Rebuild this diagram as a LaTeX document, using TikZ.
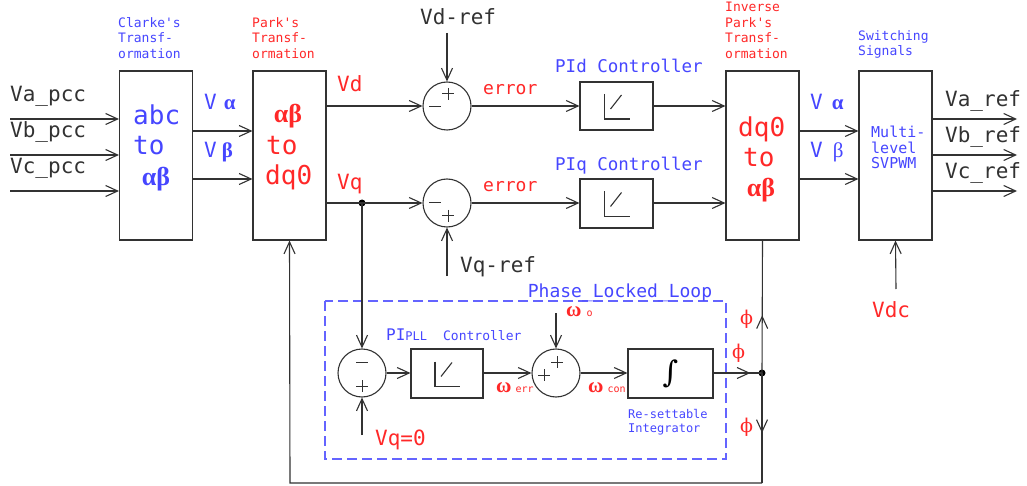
\documentclass[tikz,border=0pt]{standalone}
\usepackage{fontspec}
\setmonofont{DejaVu Sans Mono}
\newfontfamily\grk{Liberation Serif}
\newfontfamily\grkb{DejaVu Serif}
\usetikzlibrary{arrows.meta,decorations.markings,calc}
\definecolor{lc}{RGB}{50,50,50}
\definecolor{bl}{RGB}{70,70,255}
\definecolor{rd}{RGB}{255,40,40}
\definecolor{dbl}{RGB}{100,100,255}
\begin{document}
\begin{tikzpicture}[x=1pt,y=-1pt,
  every node/.style={font=\ttfamily},
  tip/.tip={Straight Barb[length=12pt,width=11pt]},
  arr/.style={-tip},
  ln/.style={draw=lc,line width=1.1pt},
  blk/.style={draw=lc,line width=1.1pt,minimum width=73pt,minimum height=169pt,inner sep=0},
  sblk/.style={draw=lc,line width=1.1pt,minimum width=73pt,minimum height=48pt,inner sep=0},
  sumc/.style={circle,draw=lc,line width=1.1pt,minimum size=48pt,inner sep=0},
  txt/.style={inner sep=0,anchor=base west},
  big/.style={txt,font=\ttfamily\fontsize{21}{25}\selectfont},
  inb/.style={txt,font=\ttfamily\fontsize{26}{30}\selectfont},
  ttl/.style={inner sep=0,anchor=north west,align=left,font=\ttfamily\fontsize{13}{15.5}\selectfont},
  jdot/.style={circle,fill=black,minimum size=7pt,inner sep=0},
  midarr/.style={postaction={decorate},decoration={markings,mark=at position #1 with {\arrow{tip}}}},
  pisym/.pic={\draw[lc,line width=1.1pt] (-12,-12) -- (-12,13) -- (13,13);
              \draw[lc,line width=1.1pt] (-6,3) -- (5,-11);},
  sgnp/.pic={\draw[lc,line width=1pt] (-6,0) -- (6,0) (0,-6) -- (0,6);},
  sgnm/.pic={\draw[lc,line width=1pt] (-6,0) -- (6,0);},
]
\useasboundingbox[fill=white] (0,0) rectangle (1027,486);

% ---------- blocks ----------
\node[blk] (clarke) at (156,155.5) {};
\node[blk] (park)   at (289.5,155.5) {};
\node[blk] (ipark)  at (762.5,155.5) {};
\node[blk] (svpwm)  at (895.5,155.5) {};
\node[sumc] (s1) at (447,106) {};
\node[sumc] (s2) at (447,203) {};
\node[sblk] (pid) at (616.5,106) {};
\node[sblk,minimum height=49pt] (piq) at (616.5,203.5) {};
\node[sumc] (s3) at (362,373) {};
\node[sumc] (s4) at (556,373) {};
\node[sblk,minimum width=72pt,minimum height=49pt] (pipll) at (447,373.5) {};
\node[sblk,minimum width=85pt,minimum height=49pt] (integ) at (670.5,373.5)
  {\grkb\fontsize{30}{32}\selectfont ∫};
\node[jdot] (j1) at (362,203) {};
\node[jdot] (j2) at (762,373) {};

\pic at (pid.center) {pisym};
\pic at (piq.center) {pisym};
\pic at (pipll.center) {pisym};

% signs
\pic at ($(s1.center)+(-12,1)$) {sgnm};
\pic at ($(s1.center)+(1,-12)$) {sgnp};
\pic at ($(s2.center)+(-12,0)$) {sgnm};
\pic at ($(s2.center)+(1,13)$) {sgnp};
\pic at ($(s3.center)+(0,-11)$) {sgnm};
\pic at ($(s3.center)+(0,13)$) {sgnp};
\pic at ($(s4.center)+(-12,2)$) {sgnp};
\pic at ($(s4.center)+(1,-11)$) {sgnp};

% PLL dashed frame
\draw[dbl,line width=1.2pt,dash pattern=on 10pt off 5pt] (325,301) rectangle (726,459);

% ---------- free ends ----------
\coordinate (ina) at (10,119);
\coordinate (inb) at (10,155);
\coordinate (inc) at (10,191);
\coordinate (ra) at (0,131);
\coordinate (rb) at (0,179);
\coordinate (oa) at (1017,119);
\coordinate (ob) at (1017,155);
\coordinate (oc) at (1017,191);
\coordinate (vdref) at (447,33);
\coordinate (vqref) at (447,276);
\coordinate (vdc) at (896,289);
\coordinate (vq0) at (362,435);
\coordinate (w0) at (556,313);
\coordinate (c1) at (762,483);
\coordinate (c2) at (290,483);

% ---------- connectors ----------
\draw[ln,arr] (ina) -- (ina -| clarke.west);
\draw[ln,arr] (inb) -- (inb -| clarke.west);
\draw[ln,arr] (inc) -- (inc -| clarke.west);
\draw[ln,arr] (clarke.east |- ra) -- (park.west |- ra);
\draw[ln,arr] (clarke.east |- rb) -- (park.west |- rb);
\draw[ln,arr] (park.east |- s1) -- (s1.west);
\draw[ln,arr] (park.east |- s2) -- (s2.west);
\draw[ln,arr] (vdref) -- (s1.north);
\draw[ln,arr] (vqref) -- (s2.south);
\draw[ln,arr] (s1.east) -- (pid.west);
\draw[ln,arr] (s2.east) -- (piq.west |- s2);
\draw[ln,arr] (pid.east) -- (pid.east -| ipark.west);
\draw[ln,arr] (piq.east |- s2) -- (ipark.west |- s2);
\draw[ln,arr] (ipark.east |- ra) -- (svpwm.west |- ra);
\draw[ln,arr] (ipark.east |- rb) -- (svpwm.west |- rb);
\draw[ln,arr] (svpwm.east |- oa) -- (oa);
\draw[ln,arr] (svpwm.east |- ob) -- (ob);
\draw[ln,arr] (svpwm.east |- oc) -- (oc);
\draw[ln,arr] (vdc) -- (svpwm.south);
\draw[ln,arr] (j1.center) -- (s3.north);
\draw[ln,arr] (vq0) -- (s3.south);
\draw[ln,arr] (s3.east) -- (pipll.west |- s3);
\draw[ln,arr] (pipll.east |- s4) -- (s4.west);
\draw[ln,arr] (w0) -- (s4.north);
\draw[ln,arr] (s4.east) -- (integ.west |- s4);
\draw[ln,midarr=0.76] (integ.east |- j2) -- (j2.center);
\draw[ln,midarr=0.436] (j2.center) -- (ipark.south);
\draw[ln,midarr=0.545] (j2.center) -- (c1);
\draw[ln,arr] (c1) -- (c2) -- (park.south);

% ---------- texts ----------
\node[big,lc] (la) at (10,102) {Va\_pcc};
\node[big,lc] (lb) at (10,138) {Vb\_pcc};
\node[big,lc] (lcc) at (10,174) {Vc\_pcc};

\node[ttl,bl] (tclarke) at (118,17) {Clarke's\\Transf-\\ormation};
\node[ttl,rd] (tpark) at (252,17) {Park's\\Transf-\\ormation};
\node[ttl,rd] (tipark) at (725,2) {Inverse\\Park's\\Transf-\\ormation};
\node[ttl,bl] (tsw) at (858,30) {Switching\\Signals};

\node[inb,bl] (cabc) at (133,125) {abc};
\node[inb,bl] (cto) at (133,155) {to};
\node[inb,bl,anchor=base] (cab) at (156,186) {\grk\bfseries αβ};
\node[inb,rd,anchor=base] (pab) at (288,123) {\grk\bfseries αβ};
\node[inb,rd] (pto) at (266,155) {to};
\node[inb,rd] (pdq) at (265,185) {dq0};
\node[inb,rd] (idq) at (738,137) {dq0};
\node[inb,rd] (ito) at (743,167) {to};
\node[inb,rd,anchor=base] (iab) at (761,197) {\grk\bfseries αβ};

\node[big,bl] (va1) at (204,110) {V\hspace{7pt}{\grk\bfseries α}};
\node[big,bl] (vb1) at (204,158) {V\hspace{5pt}{\grk\bfseries β}};
\node[big,bl] (va2) at (810,110) {V\hspace{9pt}{\grk\bfseries α}};
\node[big,bl] (vb2) at (810,158) {V\hspace{10pt}{\grk β}};

\node[big,rd] (lvd) at (337,92) {Vd};
\node[big,rd] (lvq) at (337,190) {Vq};
\node[big,lc] (lvdref) at (420,25) {Vd-ref};
\node[big,lc] (lvqref) at (460,272) {Vq-ref};
\node[txt,rd,font=\ttfamily\fontsize{18}{20}\selectfont] (err1) at (483,95) {error};
\node[txt,rd,font=\ttfamily\fontsize{18}{20}\selectfont] (err2) at (483,192) {error};
\node[txt,bl,font=\ttfamily\fontsize{17.5}{20}\selectfont] (lpid) at (555,73) {PId Controller};
\node[txt,bl,font=\ttfamily\fontsize{17.5}{20}\selectfont] (lpiq) at (555,171) {PIq Controller};

\node[ttl,bl,font=\ttfamily\fontsize{15}{15.5}\selectfont] (tsv) at (871,126) {Multi-\\level\\SVPWM};
\node[big,lc] (lra) at (945,107) {Va\_ref};
\node[big,lc] (lrb) at (945,143) {Vb\_ref};
\node[big,lc] (lrc) at (945,179) {Vc\_ref};
\node[big,rd] (lvdc) at (872,317) {Vdc};

\node[txt,bl,anchor=base,font=\ttfamily\fontsize{18}{20}\selectfont] (lpll) at (620,297) {Phase\_Locked\_Loop};
\node[txt,bl] (lpipll) at (386,340) {{\fontsize{16}{18}\selectfont PI}{\fontsize{12}{14}\selectfont PLL}\hspace{16pt}{\fontsize{13}{15}\selectfont Controller}};
\node[big,rd] (lvq0) at (375,445) {Vq=0};
\node[txt,rd,font=\ttfamily\fontsize{10}{12}\selectfont] (lw0) at (566,316) {{\grk\bfseries\fontsize{21}{22}\selectfont ω}\hspace{5pt}o};
\node[txt,rd,font=\ttfamily\fontsize{10}{12}\selectfont] (lwerr) at (496,392) {{\grk\bfseries\fontsize{21}{22}\selectfont ω}\hspace{4pt}err};
\node[txt,rd,font=\ttfamily\fontsize{10}{12}\selectfont] (lwcon) at (588,392) {{\grk\bfseries\fontsize{21}{22}\selectfont ω}\hspace{4pt}con};
\node[ttl,bl,font=\ttfamily\fontsize{12}{14}\selectfont] (tint) at (628,409) {Re-settable\\Integrator};

\node[txt,rd,font=\grkb\fontsize{19}{22}\selectfont] (ph1) at (740,324) {ϕ};
\node[txt,rd,font=\grkb\fontsize{19}{22}\selectfont] (ph2) at (732,358) {ϕ};
\node[txt,rd,font=\grkb\fontsize{19}{22}\selectfont] (ph3) at (740,432) {ϕ};
\end{tikzpicture}
\end{document}
